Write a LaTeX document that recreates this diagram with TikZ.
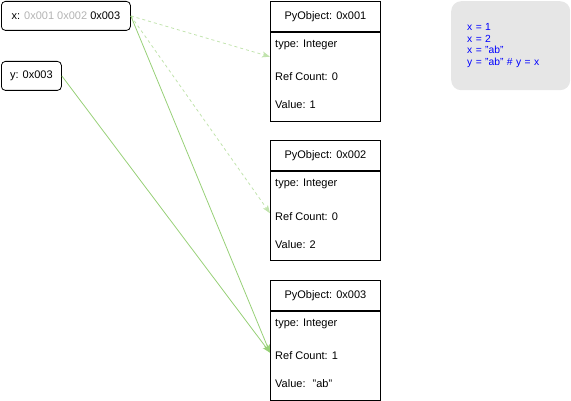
\documentclass[tikz,border=0pt]{standalone}
\usepackage{fontspec}
\setmainfont{Liberation Sans}
\definecolor{linkgreen}{HTML}{97D077}
\definecolor{stalegray}{HTML}{B3B3B3}
\definecolor{codebg}{HTML}{E6E6E6}
\definecolor{codeblue}{HTML}{0000FF}
\usetikzlibrary{arrows.meta,positioning,calc}

\begin{document}
\begin{tikzpicture}[
    x=1pt, y=-1pt,
    varbox/.style={rectangle, rounded corners=4pt, draw=black, line width=0.8pt,
                minimum height=29pt, inner sep=0pt, font=\fontsize{11}{13}\selectfont},
    header/.style={rectangle, draw=black, line width=0.8pt, minimum width=110pt,
                minimum height=30pt, inner sep=0pt, font=\fontsize{11}{13}\selectfont},
    body/.style={rectangle, draw=black, line width=0.8pt, minimum width=110pt,
                minimum height=89pt, inner sep=0pt},
    field/.style={anchor=west, inner sep=0pt, font=\fontsize{11}{13}\selectfont},
    codebox/.style={rectangle, rounded corners=10pt, fill=codebg, minimum width=119pt,
                minimum height=89pt, text width=87pt, inner xsep=16pt, align=left,
                text=codeblue, font=\fontsize{10.3}{11.6}\selectfont},
    link/.style={draw=linkgreen, line width=0.8pt,
                -{Stealth[length=8pt, width=6pt, inset=2pt]}},
    stale/.style={link, draw=linkgreen!60, dash pattern=on 3pt off 3pt}
]
    \useasboundingbox (0,0) rectangle (571,401);

    % variables
    \node[varbox, minimum width=129pt, anchor=north west] (x) at (1,1)
        {x: \textcolor{stalegray}{0x001 0x002} 0x003};
    \node[varbox, minimum width=60pt, anchor=north west] (y) at (1,61) {y: 0x003};

    % objects
    \foreach \rc/\val [count=\i] in {0/1, 0/2, 1/{\ "ab"}} {
        \node[header, anchor=north west] (head\i) at (270,{1+139.5*(\i-1)}) {PyObject: 0x00\i};
        \node[body, below=0pt of head\i] (body\i) {};
        \node[field] (type\i) at ($(body\i.north west)+(5,13)$) {type: Integer};
        \node[field] (ref\i) at ($(body\i.north west)+(5,45)$) {Ref Count: \rc};
        \node[field] (value\i) at ($(body\i.north west)+(5,73)$) {Value: \val};
    }

    % code
    \node[codebox, anchor=north west] (code) at (451,1)
        {x = 1\\x = 2\\x = "ab"\\y = "ab" \# y = x};

    % references
    \coordinate (old1) at ($(body1.west)+(0,-20)$);
    \coordinate (old2) at ($(body2.west)+(0,-3)$);
    \coordinate (cur3) at ($(body3.west)+(0,-3)$);
    \draw[stale] (x.east) -- (old1);
    \draw[stale] (x.east) -- (old2);
    \draw[link] (x.east) -- (cur3);
    \draw[link] (y.east) -- (cur3);
\end{tikzpicture}
\end{document}
